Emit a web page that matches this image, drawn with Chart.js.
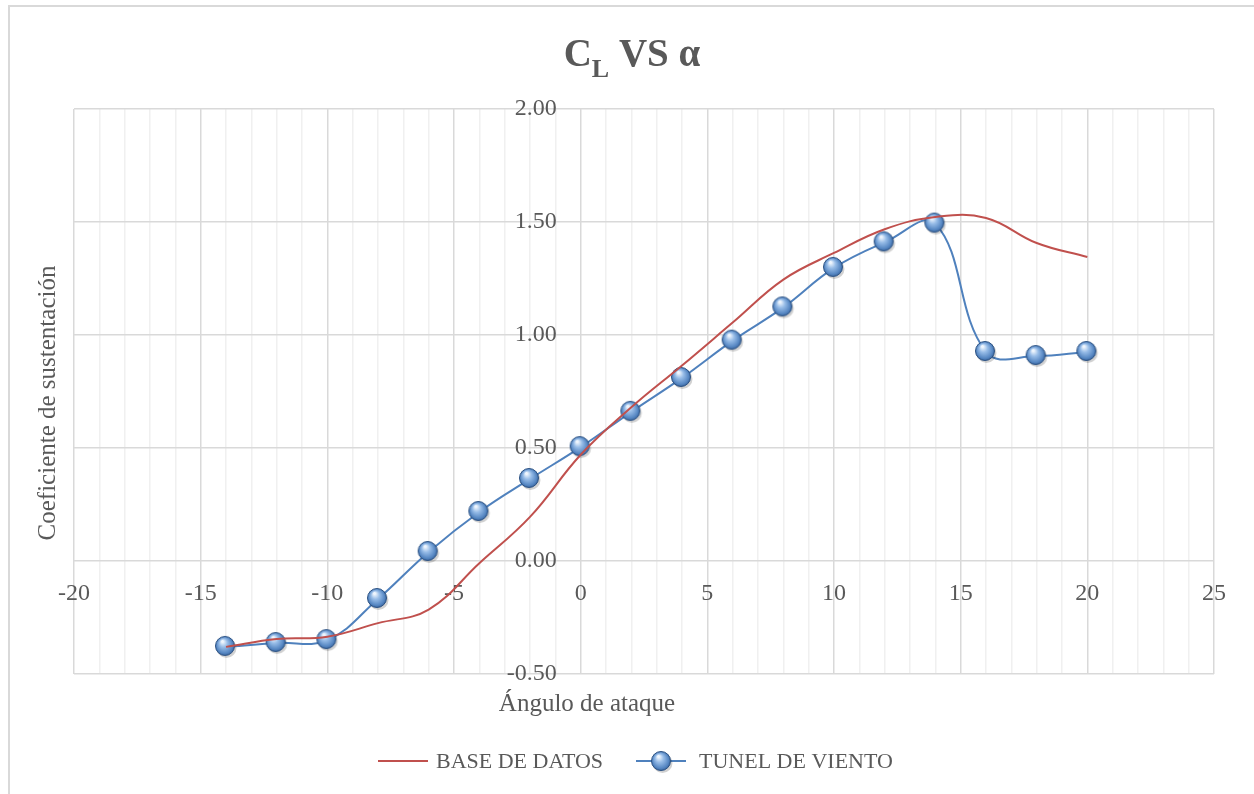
<!DOCTYPE html>
<html>
<head>
<meta charset="utf-8">
<script src="https://cdn.jsdelivr.net/npm/chart.js@4"></script>
<style>
  html, body { margin: 0; padding: 0; background: #fff; }
  #wrap { width: 1254px; height: 794px; }
</style>
</head>
<body>
<div id="wrap"><canvas id="chartCL" width="1254" height="794"></canvas></div>
<script>
const angles = [-14, -12, -10, -8, -6, -4, -2, 0, 2, 4, 6, 8, 10, 12, 14, 16, 18, 20];
const baseDatos = [-0.38, -0.345, -0.335, -0.275, -0.215, -0.01, 0.195, 0.47, 0.68, 0.865, 1.055, 1.245, 1.363, 1.468, 1.522, 1.518, 1.407, 1.345];
const tunelViento = [-0.38, -0.363, -0.35, -0.168, 0.04, 0.217, 0.363, 0.504, 0.66, 0.81, 0.975, 1.122, 1.297, 1.41, 1.493, 0.925, 0.907, 0.925];
const xLimits = [-20, 25];
const yLimits = [-0.5, 2];
const seriesNames = ['BASE DE DATOS', 'TUNEL DE VIENTO'];
const xTitle = 'Ángulo de ataque';
const yTitle = 'Coeficiente de sustentación';

const textColor = '#595959';
const serif = '"Liberation Serif", "DejaVu Serif", serif';

// 3D-looking ball marker
function makeBall(d) {
    const c = document.createElement('canvas');
    c.width = d + 4; c.height = d + 4;
    const g = c.getContext('2d');
    const r = d / 2, cx = r + 1, cy = r + 1;
    g.fillStyle = 'rgba(0,0,0,0.18)';
    g.beginPath(); g.arc(cx + 1.5, cy + 2, r, 0, Math.PI * 2); g.fill();
    const grad = g.createRadialGradient(cx - r * 0.25, cy - r * 0.45, r * 0.1, cx, cy, r);
    grad.addColorStop(0, '#eef5fd');
    grad.addColorStop(0.35, '#98bde8');
    grad.addColorStop(0.8, '#5586c2');
    grad.addColorStop(1, '#365f96');
    g.fillStyle = grad;
    g.beginPath(); g.arc(cx, cy, r - 0.5, 0, Math.PI * 2); g.fill();
    g.strokeStyle = '#2c5283';
    g.lineWidth = 1;
    g.stroke();
    return c;
}
const ball = makeBall(20);

const decor = {
    id: 'decor',
    beforeDraw(chart) {
        const ctx = chart.ctx;
        ctx.save();
        ctx.fillStyle = '#fff';
        ctx.fillRect(0, 0, chart.width, chart.height);
        ctx.strokeStyle = '#d9d9d9';
        ctx.lineWidth = 2;
        ctx.strokeRect(9, 6, 1300, 900);
        ctx.restore();
    },
    afterDraw(chart) {
        const ctx = chart.ctx;
        ctx.save();
        ctx.fillStyle = textColor;
        // title C_L VS α
        const big = 'bold 39px ' + serif, small = 'bold 26px ' + serif;
        ctx.font = big; const wC = ctx.measureText('C').width;
        const wRest = ctx.measureText(' VS α').width;
        ctx.font = small; const wL = ctx.measureText('L').width;
        let x = 632 - (wC + wL + wRest) / 2;
        ctx.textBaseline = 'alphabetic';
        ctx.textAlign = 'left';
        ctx.font = big; ctx.fillText('C', x, 66); x += wC;
        ctx.font = small; ctx.fillText('L', x, 77); x += wL;
        ctx.font = big; ctx.fillText(' VS α', x, 66);

        // axis titles
        ctx.font = '25px ' + serif;
        ctx.textAlign = 'center';
        ctx.textBaseline = 'middle';
        ctx.fillText(xTitle, 587, 704);
        ctx.save();
        ctx.translate(48, 403);
        ctx.rotate(-Math.PI / 2);
        ctx.fillText(yTitle, 0, 0);
        ctx.restore();

        // legend
        const ly = 761;
        ctx.lineWidth = 2;
        ctx.strokeStyle = '#c0504d';
        ctx.beginPath(); ctx.moveTo(378, ly); ctx.lineTo(428, ly); ctx.stroke();
        ctx.strokeStyle = '#4f81bd';
        ctx.beginPath(); ctx.moveTo(636, ly); ctx.lineTo(686, ly); ctx.stroke();
        ctx.drawImage(ball, 661 - ball.width / 2 + 1, ly - ball.height / 2 + 1);
        ctx.font = '22px ' + serif;
        ctx.textAlign = 'left';
        ctx.fillStyle = textColor;
        ctx.fillText(seriesNames[0], 436, ly + 1);
        ctx.fillText(seriesNames[1], 699, ly + 1);
        ctx.restore();
    }
};

new Chart(document.getElementById('chartCL'), {
    type: 'line',
    data: {
        datasets: [{
            label: seriesNames[0],
            data: angles.map((a, i) => ({ x: a, y: baseDatos[i] })),
            borderColor: '#c0504d',
            borderWidth: 2,
            pointRadius: 0,
            tension: 0.4,
            fill: false
        }, {
            label: seriesNames[1],
            data: angles.map((a, i) => ({ x: a, y: tunelViento[i] })),
            borderColor: '#4f81bd',
            borderWidth: 2,
            pointStyle: ball,
            pointRadius: 10,
            tension: 0.4,
            fill: false
        }]
    },
    options: {
        responsive: false,
        animation: false,
        layout: { padding: { left: 74, top: 109, right: 40, bottom: 120 } },
        plugins: {
            legend: { display: false },
            title: { display: false },
            tooltip: { enabled: false }
        },
        scales: {
            x: {
                type: 'linear',
                position: { y: 0 },
                min: xLimits[0],
                max: xLimits[1],
                border: { display: false },
                grid: {
                    drawTicks: false,
                    lineWidth: 1.5,
                    color: c => (c.tick && c.tick.value % 5 === 0) ? '#d9d9d9' : '#f0f0f0'
                },
                ticks: {
                    stepSize: 1,
                    autoSkip: false,
                    maxRotation: 0,
                    padding: 18,
                    color: textColor,
                    font: { family: serif, size: 24 },
                    callback: v => (v % 5 === 0 ? String(v) : '')
                }
            },
            y: {
                position: { x: 0 },
                min: yLimits[0],
                max: yLimits[1],
                border: { display: false },
                grid: { drawTicks: false, lineWidth: 1.5, color: '#d9d9d9' },
                ticks: {
                    stepSize: 0.5,
                    color: textColor,
                    font: { family: serif, size: 24 },
                    // labels sit left of the x=0 line; trailing spaces keep the gap
                    callback: v => v.toFixed(2) + '    '
                }
            }
        }
    },
    plugins: [decor]
});
</script>
</body>
</html>
